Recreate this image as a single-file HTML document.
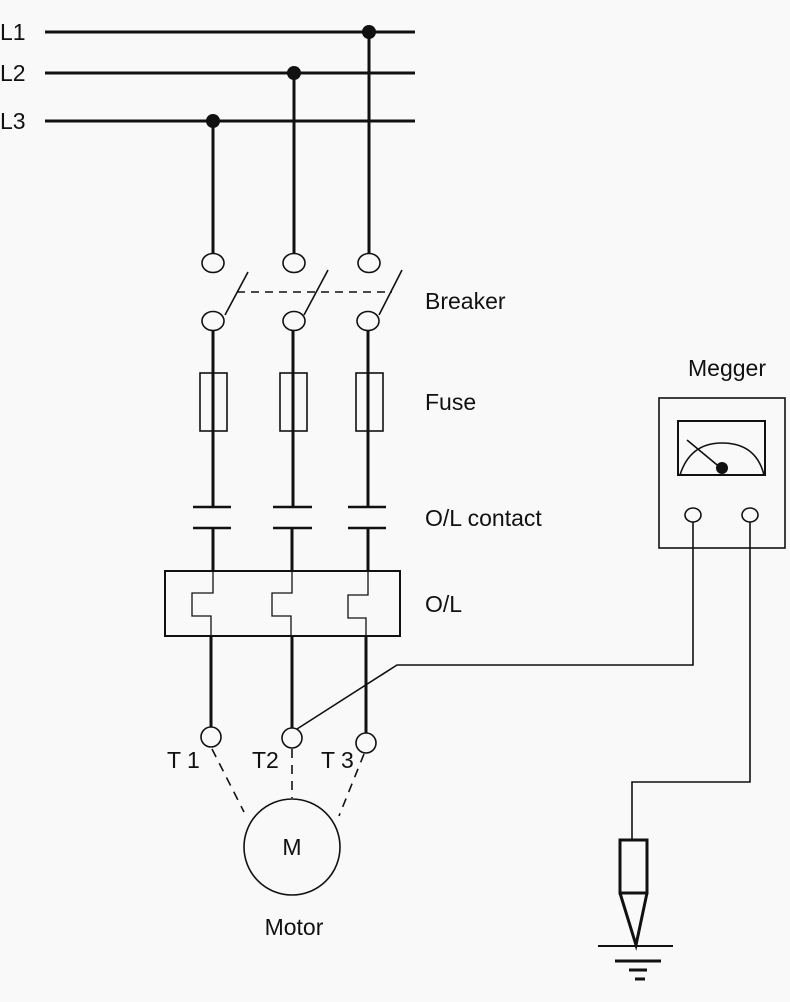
<!DOCTYPE html>
<html><head><meta charset="utf-8"><style>
html,body{margin:0;padding:0;background:#f9f9f9;}
svg{display:block;}
text{font-family:"Liberation Sans",sans-serif;fill:#111;}
</style></head><body>
<svg width="790" height="1002" viewBox="0 0 790 1002" xmlns="http://www.w3.org/2000/svg">
<rect width="790" height="1002" fill="#f9f9f9"/>
<g font-size="23">
<text x="0" y="40">L1</text>
<text x="0" y="81">L2</text>
<text x="0" y="129">L3</text>
</g>
<g stroke="#111" stroke-width="3" fill="none">
<line x1="45" y1="32" x2="415" y2="32"/>
<line x1="45" y1="73" x2="415" y2="73"/>
<line x1="45" y1="121" x2="415" y2="121"/>
<line x1="213" y1="121" x2="213" y2="254"/>
<line x1="294" y1="73" x2="294" y2="254"/>
<line x1="369" y1="32" x2="369" y2="254"/>
<line x1="213" y1="331" x2="213" y2="507"/>
<line x1="293" y1="331" x2="293" y2="507"/>
<line x1="368" y1="331" x2="368" y2="507"/>
<line x1="213" y1="528" x2="213" y2="571"/>
<line x1="292" y1="528" x2="292" y2="571"/>
<line x1="368" y1="528" x2="368" y2="571"/>
<line x1="211" y1="636" x2="211" y2="727"/>
<line x1="292" y1="636" x2="292" y2="728"/>
<line x1="366" y1="636" x2="366" y2="733"/>
<line x1="193" y1="507" x2="231" y2="507" stroke-width="2.5"/>
<line x1="193" y1="528" x2="231" y2="528" stroke-width="2.5"/>
<line x1="273" y1="507" x2="312" y2="507" stroke-width="2.5"/>
<line x1="273" y1="528" x2="312" y2="528" stroke-width="2.5"/>
<line x1="348" y1="507" x2="386" y2="507" stroke-width="2.5"/>
<line x1="348" y1="528" x2="386" y2="528" stroke-width="2.5"/>
</g>
<g fill="#111">
<circle cx="369" cy="32" r="7"/>
<circle cx="294" cy="73" r="7"/>
<circle cx="213" cy="121" r="7"/>
</g>
<g stroke="#111" stroke-width="1.6" fill="#f9f9f9">
<ellipse cx="213" cy="263" rx="11" ry="9.5"/>
<ellipse cx="294" cy="263" rx="11" ry="9.5"/>
<ellipse cx="369" cy="263" rx="11" ry="9.5"/>
<ellipse cx="213" cy="321" rx="11" ry="9.5"/>
<ellipse cx="294" cy="321" rx="11" ry="9.5"/>
<ellipse cx="368" cy="321" rx="11" ry="9.5"/>
<line x1="225" y1="315" x2="248" y2="272"/>
<line x1="304" y1="315" x2="328" y2="270"/>
<line x1="379" y1="315" x2="402" y2="270"/>
<line x1="237" y1="292" x2="392" y2="292" stroke-dasharray="8,6"/>
<rect x="200" y="373" width="27" height="58" fill="none"/>
<rect x="280" y="373" width="27" height="58" fill="none"/>
<rect x="356" y="373" width="27" height="58" fill="none"/>
<rect x="165" y="571" width="235" height="65" fill="none" stroke-width="2"/>
<polyline points="213,571 213,593 192,593 192,616 211,616 211,636" fill="none" stroke-width="1.3"/>
<polyline points="292,571 292,593 272,593 272,616 291,616 291,636" fill="none" stroke-width="1.3"/>
<polyline points="368,571 368,595 348,595 348,618 366,618 366,636" fill="none" stroke-width="1.3"/>
<polyline points="297,729 397,665 693,665 693,520" fill="none"/>
<polyline points="750,520 750,782 632,782 632,840" fill="none"/>
<circle cx="211" cy="737" r="10"/>
<circle cx="292" cy="738" r="10"/>
<circle cx="366" cy="743" r="10"/>
<g stroke-dasharray="9,7" fill="none">
<line x1="212" y1="749" x2="244" y2="812"/>
<line x1="292" y1="749" x2="292" y2="798"/>
<line x1="364" y1="754" x2="339" y2="816"/>
</g>
<circle cx="292" cy="847" r="48"/>
<rect x="659" y="398" width="126" height="150" fill="none"/>
<rect x="678" y="421" width="87" height="54" fill="none" stroke-width="2"/>
<path d="M680,475 Q690,443 722,443 Q756,443 764,475" fill="none"/>
<line x1="687" y1="440" x2="722" y2="469"/>
<ellipse cx="693" cy="515" rx="8" ry="7"/>
<ellipse cx="750" cy="515" rx="8" ry="7"/>
</g>
<circle cx="722" cy="468" r="6" fill="#111"/>
<g stroke="#111" stroke-width="3" fill="none">
<rect x="620" y="840" width="27" height="53"/>
<polyline points="620,893 636,945 647,893"/>
<line x1="598" y1="946" x2="673" y2="946" stroke-width="2"/>
<line x1="615" y1="961" x2="661" y2="961"/>
<line x1="629" y1="970" x2="647" y2="970"/>
<line x1="635" y1="979" x2="645" y2="979"/>
</g>
<g font-size="23">
<text x="425" y="309">Breaker</text>
<text x="425" y="410">Fuse</text>
<text x="425" y="526">O/L contact</text>
<text x="425" y="612">O/L</text>
<text x="727" y="376" text-anchor="middle">Megger</text>
<text x="167" y="768">T 1</text>
<text x="252" y="768">T2</text>
<text x="321" y="768">T 3</text>
<text x="292" y="855" text-anchor="middle">M</text>
<text x="294" y="935" text-anchor="middle">Motor</text>
</g>
</svg>
</body></html>
